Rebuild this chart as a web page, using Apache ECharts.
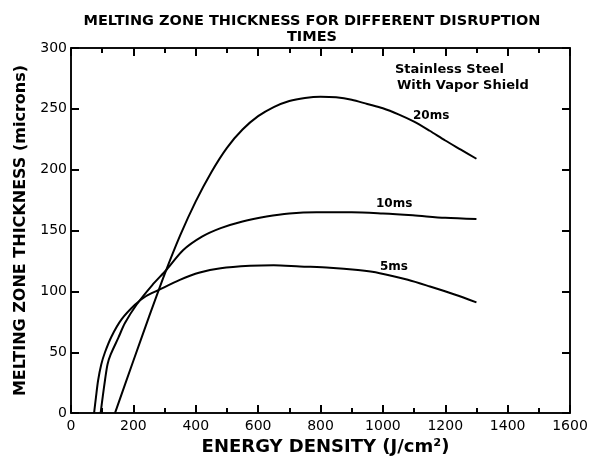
<!DOCTYPE html>
<html>
<head>
<meta charset="utf-8">
<script src="https://cdn.jsdelivr.net/npm/echarts@6/dist/echarts.min.js"></script>
<style>html,body{margin:0;padding:0;background:#fff}#c{width:596px;height:461px}</style>
</head>
<body>
<div id="c"></div>
<script>
// Data (x: J/cm², y: microns)
const ms5 = [[74,0],[80,13],[87,27],[97,40],[109,50],[130,63],[162,77],[205,89],[240,96],[280,101],[349,109.5],[413,115.5],[480,119],[574,121],[650,121.5],[734,120.5],[830,119.5],[920,117.5],[990,115],[1080,109.5],[1151,104],[1230,97.5],[1300,91]];
const ms10 = [[95,0],[102,14],[109,27],[117,40],[127,48],[152,62],[173,74],[210,89],[260,105],[307,118],[360,134],[420,145],[480,152],[550,157.5],[627,161.5],[700,164],[787,165],[900,165],[1000,164],[1096,162.5],[1200,160.5],[1300,159.5]];
const ms20 = [[141,0],[200,43],[250,79],[300,114],[350,146],[400,174],[450,198],[500,218],[550,233],[600,244],[650,251.5],[700,256.5],[750,259],[800,260],[850,259.5],[900,257.5],[950,254],[1000,250.5],[1050,245.5],[1100,239.5],[1150,232],[1200,224],[1250,216.5],[1300,209]];
const seriesNames = ['5ms','10ms','20ms'];
const xTicks = {min:0, max:1600, interval:200};
const yTicks = {min:0, max:300, interval:50};
// tick values along each axis (major x, minor x, y)
const xMajorTicks = [200,400,600,800,1000,1200,1400];
const xMinorTicks = [100,300,500,700,900,1100,1300,1500];
const yMajorTicks = [50,100,150,200,250];

const chart = echarts.init(document.getElementById('c'), null, {renderer:'canvas'});
const font = 'DejaVu Sans';
const axisLineStyle = {color:'#000', width:1.5};
const lineSeries = (name, data) => ({
  name, type:'line', data, smooth:0.3, showSymbol:false, symbol:'none',
  lineStyle:{color:'#000', width:2}, z:3
});
const plain = v => String(v);

chart.setOption({
  animation:false,
  backgroundColor:'#fff',
  title:{
    text:'MELTING ZONE THICKNESS FOR DIFFERENT DISRUPTION\nTIMES',
    left:307, top:8, textAlign:'center',
    textStyle:{fontFamily:font, fontWeight:'bold', fontSize:14.5, color:'#000', lineHeight:16}
  },
  grid:{left:71, right:26, top:48, bottom:45, show:true, borderColor:'#000', borderWidth:1.5, backgroundColor:'transparent'},
  xAxis:[{
    type:'value', position:'bottom', min:xTicks.min, max:xTicks.max, interval:xTicks.interval,
    name:'ENERGY DENSITY (J/cm²)', nameLocation:'middle', nameGap:22,
    nameTextStyle:{fontFamily:font, fontWeight:'bold', fontSize:18, color:'#000', padding:[0,0,0,10]},
    axisLine:{show:true, onZero:false, lineStyle:axisLineStyle},
    axisTick:{show:true, inside:true, length:8, lineStyle:{color:'#000', width:2}},
    minorTick:{show:true, splitNumber:2, length:5, lineStyle:{color:'#000', width:2}},
    splitLine:{show:false},
    axisLabel:{fontFamily:font, fontSize:14, color:'#000', margin:6, formatter:plain}
  },{
    type:'value', position:'top', min:xTicks.min, max:xTicks.max, interval:xTicks.interval,
    axisLine:{show:true, onZero:false, lineStyle:axisLineStyle},
    axisTick:{show:true, inside:true, length:8, lineStyle:{color:'#000', width:2}},
    minorTick:{show:true, splitNumber:2, length:5, lineStyle:{color:'#000', width:2}},
    splitLine:{show:false}, axisLabel:{show:false}
  }],
  yAxis:[{
    type:'value', position:'left', min:yTicks.min, max:yTicks.max, interval:yTicks.interval,
    name:'MELTING ZONE THICKNESS (microns)', nameLocation:'middle', nameGap:42,
    nameTextStyle:{fontFamily:font, fontWeight:'bold', fontSize:16, color:'#000'},
    axisLine:{show:true, onZero:false, lineStyle:axisLineStyle},
    axisTick:{show:true, inside:true, length:8, lineStyle:{color:'#000', width:2}},
    splitLine:{show:false},
    axisLabel:{fontFamily:font, fontSize:14, color:'#000', margin:4, formatter:plain}
  },{
    type:'value', position:'right', min:yTicks.min, max:yTicks.max, interval:yTicks.interval,
    axisLine:{show:true, onZero:false, lineStyle:axisLineStyle},
    axisTick:{show:true, inside:true, length:8, lineStyle:{color:'#000', width:2}},
    splitLine:{show:false}, axisLabel:{show:false}
  }],
  graphic:[
    {type:'text', left:395, top:63, style:{text:'Stainless Steel', fontFamily:font, fontWeight:'bold', fontSize:13, fill:'#000'}},
    {type:'text', left:397, top:79, style:{text:'With Vapor Shield', fontFamily:font, fontWeight:'bold', fontSize:13, fill:'#000'}},
    {type:'text', left:413, top:110, style:{text:seriesNames[2], fontFamily:font, fontWeight:'bold', fontSize:12, fill:'#000'}},
    {type:'text', left:376, top:198, style:{text:seriesNames[1], fontFamily:font, fontWeight:'bold', fontSize:12, fill:'#000'}},
    {type:'text', left:380, top:261, style:{text:seriesNames[0], fontFamily:font, fontWeight:'bold', fontSize:12, fill:'#000'}}
  ],
  series:[
    Object.assign(lineSeries(seriesNames[0], ms5), {xAxisIndex:0, yAxisIndex:0}),
    Object.assign(lineSeries(seriesNames[1], ms10), {xAxisIndex:0, yAxisIndex:0}),
    Object.assign(lineSeries(seriesNames[2], ms20), {xAxisIndex:0, yAxisIndex:0}),
    {type:'line', data:[], xAxisIndex:1, yAxisIndex:1, silent:true, showSymbol:false}
  ]
});
</script>
</body>
</html>
